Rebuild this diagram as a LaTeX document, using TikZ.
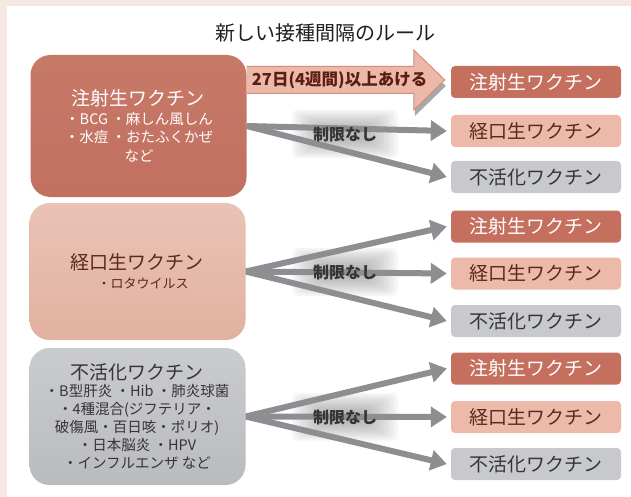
\documentclass[tikz,border=0pt]{standalone}
\usepackage{fontspec}
\setmainfont{Noto Sans CJK JP}
\usetikzlibrary{arrows.meta,calc}
\pgfdeclarelayer{bg}
\pgfdeclarelayer{mid}
\pgfsetlayers{bg,mid,main}
\definecolor{bgpink}{HTML}{F5E7E1}
\definecolor{injc}{HTML}{C27060}
\definecolor{injtop}{HTML}{C77968}
\definecolor{oralc}{HTML}{E2B1A0}
\definecolor{oraltop}{HTML}{E9C3B6}
\definecolor{inac}{HTML}{BABBBE}
\definecolor{inactop}{HTML}{CACBCE}
\definecolor{rinj}{HTML}{C56F5E}
\definecolor{roral}{HTML}{EDBAAA}
\definecolor{rinac}{HTML}{C8C9CC}
\definecolor{oraltext}{HTML}{5A281E}
\definecolor{inactext}{HTML}{353535}
\definecolor{agray}{HTML}{8D8E92}
\definecolor{bigfill}{HTML}{ECB8A8}
\definecolor{bigdraw}{HTML}{D68F7E}
\definecolor{bigtext}{HTML}{5B1E15}
\tikzset{
  lbox/.style={rounded corners=20pt, minimum width=216pt, inner sep=0pt},
  rbox/.style={rounded corners=4pt, minimum width=170pt, minimum height=32pt, inner sep=0pt, font=\fontsize{19}{22}\selectfont},
  ltitle/.style={inner sep=0pt, font=\fontsize{19}{22}\selectfont},
  litems/.style={inner sep=0pt, align=center, font=\fontsize{14.5}{18.5}\selectfont},
  garrow/.style={draw=agray, line width=6pt, -{Triangle[length=16pt,width=20pt]}},
  nolimit/.style={inner sep=0pt, font=\bfseries\fontsize{16}{18}\selectfont, text=inactext},
}
\begin{document}
\begin{tikzpicture}[x=1pt,y=-1pt]
\begin{pgfonlayer}{bg}
\fill[bgpink] (0,0) rectangle (631,497);
\fill[white] (7,6) rectangle (631,497);
\end{pgfonlayer}
\useasboundingbox (0,0) rectangle (631,497);

\node[inner sep=0pt, font=\fontsize{20}{24}\selectfont, text=black!88] (title) at (325,33) {新しい接種間隔のルール};

% left boxes
\node[lbox, minimum height=142pt, top color=injtop, bottom color=injc] (b1) at (138.5,126) {};
\node[lbox, minimum height=137pt, top color=oraltop, bottom color=oralc] (b2) at (137.5,271.5) {};
\node[lbox, minimum height=137pt, top color=inactop, bottom color=inac] (b3) at (137.5,416.5) {};

\node[ltitle, text=white] (t1) at (138,98) {注射生ワクチン};
\node[litems, text=white] (i1) at (139,137) {・BCG ・麻しん風しん\\・水痘 ・おたふくかぜ\\など};
\node[ltitle, text=oraltext] (t2) at (137,262) {経口生ワクチン};
\node[inner sep=0pt, font=\fontsize{13}{16}\selectfont, text=oraltext] (i2) at (143,283) {・ロタウイルス};
\node[ltitle, text=inactext] (t3) at (137,372) {不活化ワクチン};
\node[litems, text=inactext, font=\fontsize{14.5}{18}\selectfont] (i3) at (137,427) {・B型肝炎 ・Hib ・肺炎球菌\\・4種混合(ジフテリア・\\破傷風・百日咳・ポリオ)\\・日本脳炎 ・HPV\\・インフルエンザ など};

% right boxes
\node[rbox, fill=rinj, text=white] (r1) at (536,82) {注射生ワクチン};
\node[rbox, fill=roral, text=oraltext] (r2) at (536,131) {経口生ワクチン};
\node[rbox, fill=rinac, text=inactext] (r3) at (536,177) {不活化ワクチン};
\node[rbox, fill=rinj, text=white] (r4) at (536,226.5) {注射生ワクチン};
\node[rbox, fill=roral, text=oraltext] (r5) at (536,273.5) {経口生ワクチン};
\node[rbox, fill=rinac, text=inactext] (r6) at (536,321) {不活化ワクチン};
\node[rbox, fill=rinj, text=white] (r7) at (536,368.5) {注射生ワクチン};
\node[rbox, fill=roral, text=oraltext] (r8) at (536,417) {経口生ワクチン};
\node[rbox, fill=rinac, text=inactext] (r9) at (536,464) {不活化ワクチン};

% labels
\node[nolimit] (n1) at (345,134) {制限なし};
\node[nolimit] (n2) at (345,272) {制限なし};
\node[nolimit] (n3) at (345,417) {制限なし};

% glows
\begin{pgfonlayer}{bg}
\foreach \lab in {n1,n2,n3}{
  \foreach \i in {0,...,9}{
    \fill[black!55, opacity=0.06, rounded corners=5pt]
      ($(\lab.center)+(-53+\i*3.4,-24+\i*1.9)$) rectangle ($(\lab.center)+(53-\i*3.4,24-\i*1.9)$);
  }
}
\end{pgfonlayer}

% gray arrows
\begin{pgfonlayer}{mid}
\draw[garrow] (b1.east) -- ([xshift=-4pt]r2.west);
\draw[garrow] (b1.east) -- ([xshift=-4pt]r3.west);
\draw[garrow] (b2.east) -- ([xshift=-4pt]r4.west);
\draw[garrow] (b2.east) -- ([xshift=-4pt]r5.west);
\draw[garrow] (b2.east) -- ([xshift=-4pt]r6.west);
\draw[garrow] (b3.east) -- ([xshift=-4pt]r7.west);
\draw[garrow] (b3.east) -- ([xshift=-4pt]r8.west);
\draw[garrow] (b3.east) -- ([xshift=-4pt]r9.west);
\end{pgfonlayer}

% big arrow
\coordinate (tip) at ($(r1.west)+(-6,-2)$);
\fill[black!45, opacity=.75] ($(tip)+(1,6)$) -- ($(tip)+(-30,36)$) -- ($(tip)+(-30,-24)$) -- cycle;
\fill[bigfill] ($(b1.east |- tip)+(0,-13.5)$) -- ($(tip)+(-31,-13.5)$) -- ($(tip)+(-31,-30)$) -- (tip) -- ($(tip)+(-31,30)$) -- ($(tip)+(-31,13.5)$) -- ($(b1.east |- tip)+(0,13.5)$) -- cycle;
\draw[bigdraw, line width=1pt] ($(b1.east |- tip)+(0,-13.5)$) -- ($(tip)+(-31,-13.5)$) -- ($(tip)+(-31,-30)$) -- (tip) -- ($(tip)+(-31,30)$) -- ($(tip)+(-31,13.5)$) -- ($(b1.east |- tip)+(0,13.5)$);
\node[anchor=west, inner sep=0pt, font=\bfseries\fontsize{16.5}{18}\selectfont, text=bigtext] (lab27) at ($(b1.east |- tip)+(5,0)$) {27日(4週間)以上あける};
\end{tikzpicture}
\end{document}
